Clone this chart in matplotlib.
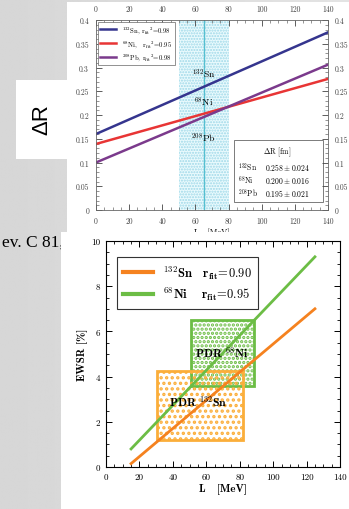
import numpy as np
import matplotlib
matplotlib.use("Agg")
import matplotlib.pyplot as plt
from matplotlib.patches import Rectangle
from matplotlib.ticker import MultipleLocator, FuncFormatter

# ---- top panel data (Delta R vs L) ----
top_L = [0, 140]
dr_sn = [0.160, 0.374]
dr_ni = [0.139, 0.276]
dr_pb = [0.100, 0.306]
top_names = [r"$^{132}$Sn, r$_{\rm fit}$$^2$=0.98", r"$^{68}$Ni,   r$_{\rm fit}$$^2$=0.95",
             r"$^{208}$Pb, r$_{\rm fit}$$^2$=0.98"]
band_L = [50, 80]
L_mark = 65.2
box_rows = [(r"$^{132}$Sn", r"$0.258\pm0.024$"), (r"$^{68}$Ni", r"$0.200\pm0.016$"),
            (r"$^{208}$Pb", r"$0.195\pm0.021$")]

# ---- bottom panel data (EWSR vs L) ----
bot_L = [15, 125]
ew_sn = [0.15, 7.0]
ew_ni = [0.8, 9.3]
bot_names = [r"$\mathbf{^{132}Sn\quad r_{fit}\!=\!0.90}$", r"$\mathbf{^{68}Ni\quad\ r_{fit}\!=\!0.95}$"]
pdr_ni = (50.7, 88.5, 3.6, 6.5)   # xmin, xmax, ymin, ymax
pdr_sn = (30.7, 81.8, 1.2, 4.25)

plt.rcParams["mathtext.fontset"] = "cm"
plt.rcParams["font.family"] = "serif"
plt.rcParams["font.serif"] = ["cmr10", "DejaVu Serif"]
plt.rcParams["axes.formatter.use_mathtext"] = True
plt.rcParams["axes.unicode_minus"] = False

W, H = 349, 510
fig = plt.figure(figsize=(W / 100, H / 100), dpi=100)

# slide background (grey gradient)
bg = fig.add_axes([0, 0, 1, 1], zorder=-10)
grad = np.linspace(0.84, 0.89, 256)[None, :]
bg.imshow(np.repeat(grad, 2, axis=0), cmap="gray", vmin=0, vmax=1, aspect="auto", extent=[0, 1, 0, 1])
bg.set_xlim(0, 1)
bg.set_ylim(0, 1)
bg.axis("off")


def px_rect(x0, y0, x1, y1, z):
    fig.patches.append(Rectangle((x0 / W, 1 - y1 / H), (x1 - x0) / W, (y1 - y0) / H,
                                 transform=fig.transFigure, facecolor="white", edgecolor="none", zorder=z))


px_rect(67, 3, 349, 233, -5)
px_rect(16, 81, 67, 160, -5)
fig.text(42 / W, 1 - 120 / H, "ΔR", rotation=90, ha="center", va="center",
         fontsize=16, family="Liberation Sans", zorder=-4)
fig.text(64 / W, 1 - 243 / H, "ev. C 81,", ha="right", va="center", fontsize=12.5,
         family="Liberation Serif", zorder=-4)
px_rect(61, 233, 349, 510, 0.5)

fmt = FuncFormatter(lambda v, p: f"{v:g}")

# ================= top panel =================
ax1 = fig.add_axes([96 / W, 1 - 211 / H, 232 / W, 190 / H], zorder=0)
ax1.patch.set_alpha(0)
ax1.axvspan(band_L[0], band_L[1], facecolor="#eafafd", edgecolor="#9ed8e8", hatch="......", lw=0)
ax1.axvline(L_mark, color="#55bfd0", lw=1)
ax1.plot(top_L, dr_sn, color="#35358e", lw=1.8, label=top_names[0])
ax1.plot(top_L, dr_ni, color="#e83535", lw=1.8, label=top_names[1])
ax1.plot(top_L, dr_pb, color="#7b3a8c", lw=1.8, label=top_names[2])
ax1.set_xlim(0, 140)
ax1.set_ylim(0, 0.4)
ax1.xaxis.set_major_locator(MultipleLocator(20))
ax1.xaxis.set_minor_locator(MultipleLocator(5))
ax1.yaxis.set_major_locator(MultipleLocator(0.05))
ax1.yaxis.set_minor_locator(MultipleLocator(0.01))
ax1.xaxis.set_major_formatter(fmt)
ax1.yaxis.set_major_formatter(fmt)
ax1.tick_params(which="both", direction="in", top=True, right=True, labeltop=True, labelright=True,
                labelsize=5.5, colors="#444444", pad=5)
ax1.tick_params(which="major", length=4, width=0.6)
ax1.tick_params(which="minor", length=2, width=0.4)
for s in ax1.spines.values():
    s.set_color("#666666")
    s.set_linewidth(0.6)
ax1.set_xlabel("L   [MeV]", fontsize=6, labelpad=2)
ax1.text(65, 0.288, r"$^{132}$Sn", ha="center", va="center", fontsize=7)
ax1.text(65, 0.228, r"$^{68}$Ni", ha="center", va="center", fontsize=7)
ax1.text(65, 0.153, r"$^{208}$Pb", ha="center", va="center", fontsize=7)
leg1 = ax1.legend(loc="upper left", fontsize=4.8, handlelength=2.4, borderaxespad=0.25,
                  labelspacing=0.45, fancybox=False, edgecolor="#666666", framealpha=1)
leg1.get_frame().set_linewidth(0.5)
ax1.add_patch(Rectangle((0.595, 0.042), 0.383, 0.326, transform=ax1.transAxes, facecolor="white",
                        edgecolor="#666666", lw=0.6))
ax1.text(0.78, 0.307, r"$\Delta$R [fm]", transform=ax1.transAxes, ha="center", va="center", fontsize=5.5)
for i, (nm, val) in enumerate(box_rows):
    yy = 0.228 - i * 0.068
    ax1.text(0.61, yy, nm, transform=ax1.transAxes, ha="left", va="center", fontsize=5.5)
    ax1.text(0.728, yy, val, transform=ax1.transAxes, ha="left", va="center", fontsize=5.5)

# ================= bottom panel =================
ax2 = fig.add_axes([106 / W, 1 - 468 / H, 234 / W, 226 / H], zorder=1)
ax2.patch.set_alpha(0)
plt.rcParams["hatch.linewidth"] = 1.6
ax2.add_patch(Rectangle((pdr_ni[0], pdr_ni[2]), pdr_ni[1] - pdr_ni[0], pdr_ni[3] - pdr_ni[2],
                        facecolor="none", edgecolor="#6cbd45", hatch="....", lw=0))
ax2.add_patch(Rectangle((pdr_ni[0], pdr_ni[2]), pdr_ni[1] - pdr_ni[0], pdr_ni[3] - pdr_ni[2],
                        facecolor="none", edgecolor="#6cbd45", lw=2))
ax2.add_patch(Rectangle((pdr_sn[0], pdr_sn[2]), pdr_sn[1] - pdr_sn[0], pdr_sn[3] - pdr_sn[2],
                        facecolor="none", edgecolor="#fbae3a", hatch="...", lw=0))
ax2.add_patch(Rectangle((pdr_sn[0], pdr_sn[2]), pdr_sn[1] - pdr_sn[0], pdr_sn[3] - pdr_sn[2],
                        facecolor="none", edgecolor="#fbae3a", lw=2))
ax2.plot(bot_L, ew_sn, color="#f5821f", lw=2, label=bot_names[0])
ax2.plot(bot_L, ew_ni, color="#6cbd45", lw=2, label=bot_names[1])
ax2.text(69.5, 5.05, r"$\mathbf{PDR\ ^{68}Ni}$", ha="center", va="center", fontsize=8.5)
ax2.text(55, 2.92, r"$\mathbf{PDR\ ^{132}Sn}$", ha="center", va="center", fontsize=8.5)
ax2.set_xlim(0, 140)
ax2.set_ylim(0, 10)
ax2.xaxis.set_major_locator(MultipleLocator(20))
ax2.xaxis.set_minor_locator(MultipleLocator(5))
ax2.yaxis.set_major_locator(MultipleLocator(2))
ax2.yaxis.set_minor_locator(MultipleLocator(0.5))
ax2.xaxis.set_major_formatter(fmt)
ax2.yaxis.set_major_formatter(fmt)
ax2.tick_params(which="both", direction="in", top=True, right=True, labelsize=6.5, pad=4)
ax2.tick_params(which="major", length=4, width=0.7)
ax2.tick_params(which="minor", length=2.5, width=0.6)
for s in ax2.spines.values():
    s.set_linewidth(0.8)
ax2.set_xlabel("L   [MeV]", fontsize=8, family="cmb10", labelpad=1)
ax2.set_ylabel("EWSR [%]", fontsize=8, family="cmb10", labelpad=3)
leg2 = ax2.legend(loc="upper left", bbox_to_anchor=(0.047, 0.929), borderaxespad=0, fontsize=9,
                  handlelength=2.4, labelspacing=0.35, fancybox=False, edgecolor="#333333",
                  framealpha=1, borderpad=0.5)
leg2.get_frame().set_linewidth(0.8)
for ln in leg2.get_lines():
    ln.set_linewidth(3)

fig.savefig("out.png", dpi=100)
